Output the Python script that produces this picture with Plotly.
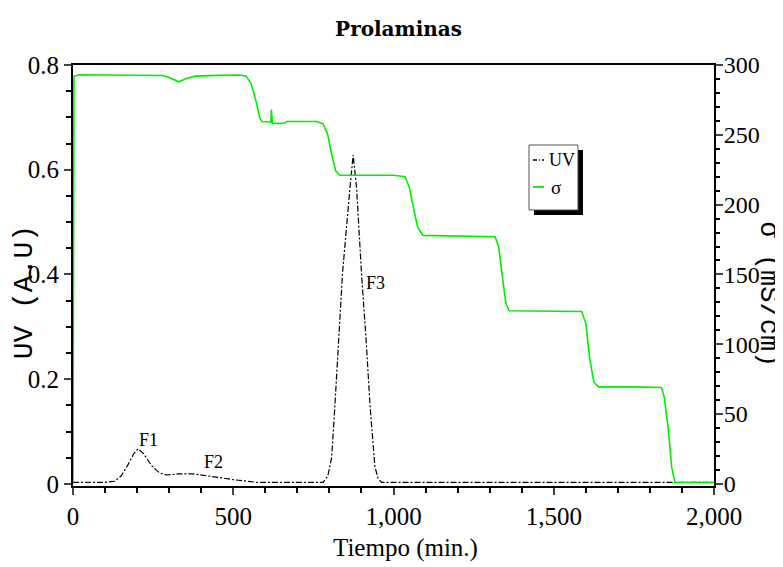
import plotly.graph_objects as go

# UV absorbance (A.U) vs time (min)
uv_time = [0, 100, 130, 150, 170, 190, 203, 220, 245, 270, 292, 330, 375, 420, 459, 500, 540, 573,
           700, 780, 795, 807, 817, 829, 841, 864, 874, 885, 900, 914, 927, 942, 952, 963, 1500, 2000]
uv_vals = [0.003, 0.003, 0.005, 0.015, 0.035, 0.058, 0.067, 0.058, 0.035, 0.021, 0.017, 0.019, 0.019,
           0.016, 0.012, 0.008, 0.005, 0.003, 0.003, 0.003, 0.015, 0.05, 0.148, 0.27, 0.403, 0.564,
           0.628, 0.564, 0.403, 0.28, 0.148, 0.033, 0.01, 0.003, 0.003, 0.003]

# Conductivity sigma (mS/cm) vs time (min)
sig_time = [0, 3, 20, 100, 200, 280, 300, 330, 350, 380, 450, 520, 540, 555, 570, 583, 590, 617, 619,
            622, 640, 660, 667, 700, 760, 780, 795, 808, 820, 833, 900, 1000, 1036, 1050, 1062, 1075,
            1092, 1200, 1317, 1328, 1340, 1350, 1360, 1450, 1587, 1600, 1612, 1625, 1640, 1750, 1836,
            1845, 1857, 1868, 1878, 1950, 2000]
sig_vals = [0, 292, 293, 292.8, 293, 292.5, 291, 288, 290, 292, 292.6, 292.8, 292, 287, 275, 262, 259.5,
            259, 268, 258.5, 258, 258.5, 259.5, 259.5, 259.5, 258, 250, 235, 224, 221, 221, 221, 220,
            212, 198, 184, 178, 177.5, 177, 170, 150, 130, 124, 124, 123.5, 115, 90, 73, 69.5, 69.5, 69,
            62, 40, 12, 1, 1, 1]

peak_labels = ["F1", "F2", "F3"]
peak_x = [234, 437, 945]
peak_y = [0.084, 0.042, 0.384]

SERIF = "Liberation Serif"
MONO = "Liberation Mono"
GREEN = "#00ee00"
UV_DASH = "6px,2px,2px,2px"

fig = go.Figure()
fig.add_trace(go.Scatter(x=uv_time, y=uv_vals, name="UV", mode="lines", showlegend=False,
                         line=dict(color="black", width=1.2, dash=UV_DASH)))
fig.add_trace(go.Scatter(x=sig_time, y=sig_vals, name="σ", mode="lines", yaxis="y2", showlegend=False,
                         line=dict(color=GREEN, width=1.6)))

for t, xx, yy in zip(peak_labels, peak_x, peak_y):
    fig.add_annotation(x=xx, y=yy, text=t, showarrow=False, xref="x", yref="y",
                       font=dict(family=SERIF, size=18, color="black"))

axis_common = dict(ticks="outside", ticklen=7, tickwidth=1.5, showline=True, linewidth=2,
                   linecolor="black", showgrid=False, zeroline=False, automargin=False)

# The page body adds an 8px offset, so the figure is 8px smaller and shifted accordingly.
fig.update_layout(
    width=775, height=559,
    margin=dict(l=65, r=69, t=57, b=81, autoexpand=False),
    paper_bgcolor="white", plot_bgcolor="white",
    title=dict(text="<b>Prolaminas</b>", x=0.504, xanchor="center", y=0.962, yanchor="middle",
               font=dict(family="DejaVu Serif", size=20, color="black")),
    showlegend=False,
    xaxis=dict(range=[0, 2000], tickvals=[0, 500, 1000, 1500, 2000], tickformat=",", mirror=True,
               minor=dict(dtick=100, ticks="outside", ticklen=5, tickcolor="black"),
               tickfont=dict(family=SERIF, size=25, color="black"), **axis_common),
    yaxis=dict(range=[-0.004, 0.8], tickvals=[0, 0.2, 0.4, 0.6, 0.8],
               ticktext=["0", "0.2", "0.4", "0.6", "0.8"], mirror=True,
               minor=dict(dtick=0.05, ticks="outside", ticklen=5, tickcolor="black"),
               tickfont=dict(family=SERIF, size=25, color="black"), **axis_common),
    yaxis2=dict(range=[-1.5, 300], overlaying="y", side="right",
                tickvals=[0, 50, 100, 150, 200, 250, 300], ticklabelstandoff=-4,
                minor=dict(dtick=10, ticks="outside", ticklen=4, tickcolor="black"),
                tickfont=dict(family=SERIF, size=24, color="black"), **axis_common),
)

# Axis titles
fig.add_annotation(text="Tiempo (min.)", xref="paper", yref="paper", x=0.518, y=-0.147, showarrow=False,
                   xanchor="center", yanchor="middle", font=dict(family=SERIF, size=25, color="black"))
fig.add_annotation(text="UV (A.U)", xref="paper", yref="paper", x=-0.0764, y=0.46, showarrow=False,
                   textangle=-90, xanchor="center", yanchor="middle",
                   font=dict(family=MONO, size=28, color="black"))
fig.add_annotation(text="σ (mS/cm)", xref="paper", yref="paper", x=1.0842, y=0.455, showarrow=False,
                   textangle=90, xanchor="center", yanchor="middle",
                   font=dict(family=MONO, size=27, color="black"))

# Legend box with drop shadow (drawn as paper shapes)
fig.add_shape(type="rect", xref="paper", yref="paper", x0=0.7192, x1=0.7956, y0=0.6437, y1=0.7981,
              fillcolor="black", line=dict(width=0), layer="above")
fig.add_shape(type="rect", xref="paper", yref="paper", x0=0.7114, x1=0.7878, y0=0.6556, y1=0.8100,
              fillcolor="white", line=dict(color="#555", width=1), layer="above")
fig.add_shape(type="line", xref="paper", yref="paper", x0=0.7176, x1=0.7348, y0=0.7743, y1=0.7743,
              line=dict(color="black", width=1.5, dash="4px,2px,1px,2px"), layer="above")
fig.add_shape(type="line", xref="paper", yref="paper", x0=0.7176, x1=0.7348, y0=0.7102, y1=0.7102,
              line=dict(color=GREEN, width=1.8), layer="above")
fig.add_annotation(text="UV", xref="paper", yref="paper", x=0.7390, y=0.7743, showarrow=False,
                   xanchor="left", yanchor="middle", font=dict(family=SERIF, size=18, color="black"))
fig.add_annotation(text="σ", xref="paper", yref="paper", x=0.7430, y=0.7102, showarrow=False,
                   xanchor="left", yanchor="middle", font=dict(family=SERIF, size=19, color="black"))

fig.write_html("out.html")
